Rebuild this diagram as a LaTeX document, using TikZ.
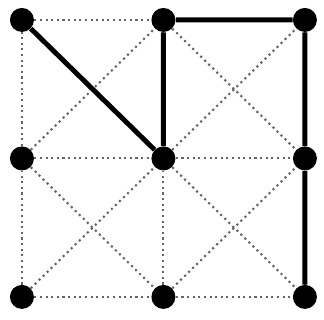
\documentclass[tikz,border=0pt]{standalone}
\usepackage{tikz}
\definecolor{gridGray}{RGB}{100, 100, 100}

\begin{document}
\begin{tikzpicture}[x=2.83cm, y=2.77cm,
    dot/.style={circle, fill=black, inner sep=0pt, minimum size=0.48cm},
    gridline/.style={gridGray, dotted, line width=1.2pt},
    pathline/.style={black, line width=2.8pt}]
      \useasboundingbox (-0.155,-0.166) rectangle (2.135,2.144);

      % Lattice points
      \foreach \i in {0,1,2} {
        \foreach \j in {0,1,2} {
          \node[dot] (p\i\j) at (\i,\j) {};
        }
      }

      % Dotted grid lines
      \foreach \i in {0,1,2} {
        \draw[gridline] (p\i0) -- (p\i1) -- (p\i2);
        \draw[gridline] (p0\i) -- (p1\i) -- (p2\i);
      }

      % Dotted diagonals in each cell
      \draw[gridline] (p00) -- (p11) -- (p22);
      \draw[gridline] (p10) -- (p21);
      \draw[gridline] (p01) -- (p12);
      \draw[gridline] (p11) -- (p20);
      \draw[gridline] (p01) -- (p10);
      \draw[gridline] (p12) -- (p21);

      % Thick path
      \draw[pathline] (p02) -- (p11) -- (p12) -- (p22) -- (p21) -- (p20);
    \end{tikzpicture}
\end{document}
